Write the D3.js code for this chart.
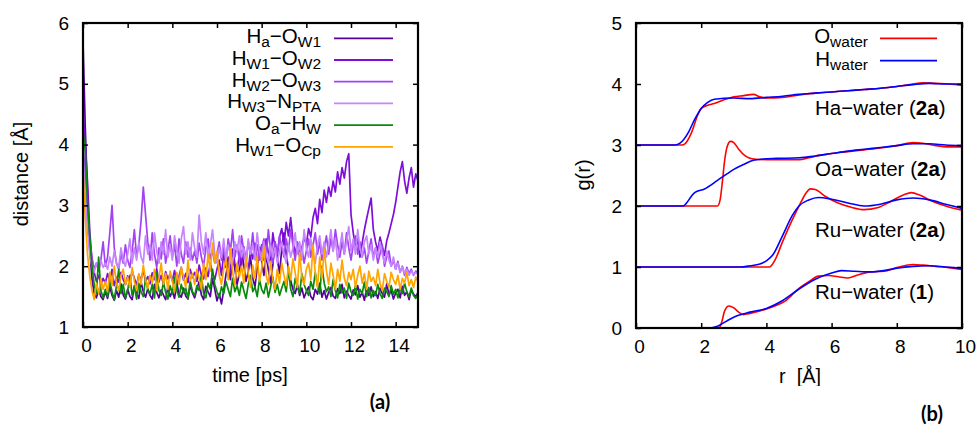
<!DOCTYPE html>
<html><head><meta charset="utf-8">
<script src="https://cdn.jsdelivr.net/npm/d3@7"></script>
<style>
body{margin:0;background:#fff}
svg{display:block}
text{font-family:"Liberation Sans",Arial,Helvetica,sans-serif;fill:#000}
</style>
</head><body>
<svg id="c" width="976" height="428"></svg>
<script>
// ---------- Panel (a) data: distance [Å] vs time [ps], sampled every 0.1 ps ----------
const timePs = d3.range(151).map(i => i / 10);
const haOw1 = [
5.70,4.30,3.20,2.30,1.80,1.55,1.48,1.62,1.50,1.45,
1.58,1.47,1.66,1.52,1.44,1.60,1.49,1.71,1.53,1.46,
1.62,1.50,1.45,1.68,1.55,1.47,1.74,1.58,1.49,1.63,
1.52,1.46,1.70,1.57,1.48,1.61,1.53,1.45,1.66,1.50,
1.59,1.47,1.72,1.54,1.49,1.64,1.51,1.46,1.69,1.56,
1.48,1.62,1.75,1.53,1.45,1.67,1.58,1.50,1.80,1.62,
1.43,1.55,1.38,1.60,1.86,2.05,1.78,2.20,1.95,1.70,
1.88,2.25,2.02,1.75,1.92,2.15,1.80,1.66,1.98,2.30,
2.08,1.85,2.18,1.94,1.72,2.02,2.40,2.12,1.88,2.28,
2.55,2.20,1.95,1.76,1.62,1.55,1.70,1.52,1.64,1.48,
1.58,1.66,1.50,1.45,1.62,1.54,1.72,1.49,1.60,1.46,
1.57,1.65,1.51,1.47,1.63,1.55,1.70,1.48,1.59,1.52,
1.46,1.61,1.53,1.68,1.49,1.57,1.44,1.63,1.52,1.66,
1.50,1.58,1.47,1.64,1.55,1.49,1.71,1.53,1.60,1.46,
1.56,1.62,1.48,1.67,1.52,1.58,1.45,1.61,1.54,1.50,
1.57];
const hw1Ow2 = [
4.60,4.00,3.40,2.60,2.10,1.90,1.75,1.85,1.70,1.80,
1.72,1.88,1.76,1.95,1.68,1.82,1.74,1.90,1.78,1.70,
1.84,1.73,1.92,1.80,1.69,1.86,1.77,1.94,1.75,1.83,
1.71,1.89,1.78,1.96,1.74,1.85,1.70,1.91,1.79,1.87,
1.76,1.93,1.72,1.84,1.98,1.77,1.88,1.73,1.95,1.81,
1.90,1.75,2.02,1.86,1.79,1.97,1.83,2.05,1.88,1.78,
1.95,2.10,1.85,2.22,1.98,2.15,1.90,2.28,2.05,1.92,
2.18,2.00,2.32,2.08,1.94,2.25,2.12,2.38,2.02,2.20,
2.35,2.10,2.45,2.22,2.05,2.55,2.30,2.15,2.48,2.62,
2.35,2.72,2.50,2.80,2.42,2.20,2.38,2.15,2.30,2.48,
2.35,2.62,2.48,2.80,2.95,2.70,3.10,2.88,3.25,3.05,
3.30,3.15,3.40,3.22,3.55,3.35,3.62,3.45,3.72,3.85,
2.85,2.55,2.30,2.45,2.15,2.38,2.60,2.78,2.95,3.12,
2.60,2.40,2.25,2.48,2.32,2.18,2.42,2.55,2.70,2.85,
3.05,3.30,3.55,3.72,3.40,3.20,3.45,3.62,3.30,3.52,
3.40];
const hw2Ow3 = [
4.00,3.50,2.90,2.40,2.15,1.95,2.05,1.92,2.10,2.40,
2.00,2.15,2.55,3.00,2.30,2.05,1.95,2.20,2.05,2.35,
2.10,1.98,2.25,2.60,2.15,2.35,2.75,3.30,2.85,2.40,
2.10,2.55,2.20,1.98,2.30,2.12,2.45,2.05,2.25,2.50,
2.15,2.35,2.00,2.45,2.20,2.05,2.40,2.15,2.30,2.10,
2.25,2.05,2.38,2.15,2.00,2.30,2.45,2.12,2.25,2.05,
2.20,2.40,2.10,2.30,2.05,2.45,2.25,2.60,2.15,2.35,
2.10,2.50,2.25,2.05,2.40,2.20,2.55,2.15,2.35,2.10,
2.30,2.45,2.15,2.60,2.25,2.05,2.40,2.20,2.50,2.30,
2.15,2.45,2.25,2.60,2.35,2.10,2.40,2.20,2.30,2.05,
2.25,2.45,2.15,2.35,2.55,2.20,2.40,2.10,2.30,2.50,
2.20,2.45,2.25,2.60,2.35,2.15,2.40,2.20,2.55,2.30,
2.10,2.35,2.50,2.20,2.40,2.15,2.30,2.05,2.25,2.45,
2.15,2.30,2.05,2.20,2.35,2.00,2.15,2.25,2.00,2.10,
1.95,2.08,1.90,2.00,1.85,1.98,1.88,1.95,1.85,1.92,
1.88];
const hw3Npta = [
3.80,3.20,2.60,2.20,2.00,1.90,2.05,1.95,2.10,1.98,
2.05,1.95,2.15,2.00,2.25,2.05,1.98,2.30,2.10,2.00,
2.20,2.45,2.05,2.30,2.10,2.40,2.15,2.05,2.50,2.20,
2.35,2.10,2.55,2.25,2.05,2.40,2.20,2.60,2.15,2.35,
2.10,2.50,2.25,2.05,2.45,2.65,2.20,2.40,2.10,2.55,
2.30,2.15,2.84,2.40,2.20,2.55,2.10,2.35,2.60,2.20,
2.05,2.30,2.15,2.45,2.10,2.35,2.20,2.05,2.40,2.25,
2.50,2.15,2.30,2.05,2.45,2.20,2.35,2.10,2.55,2.25,
2.10,2.40,2.20,2.05,2.35,2.15,2.30,2.05,2.25,2.40,
2.20,2.05,2.35,2.15,2.30,2.55,2.20,2.40,2.10,2.60,
2.30,2.15,2.45,2.20,2.05,2.35,2.50,2.20,2.40,2.15,
2.35,2.60,2.25,2.45,2.10,2.30,2.55,2.20,2.40,2.65,
2.25,2.45,2.20,2.60,2.30,2.15,2.40,2.50,2.20,2.35,
2.10,2.30,2.15,2.40,2.20,2.05,2.25,2.10,2.00,2.15,
1.95,2.05,1.90,2.00,1.88,1.95,1.85,1.92,1.86,1.90,
1.87];
const oaHw = [
4.20,3.90,3.05,2.50,2.00,1.70,1.55,2.15,1.60,1.48,
1.62,1.50,1.75,1.58,1.45,1.68,1.95,1.55,1.70,1.48,
1.60,1.85,1.52,1.66,1.46,1.72,1.58,1.50,1.80,1.62,
1.54,1.70,1.48,1.90,1.60,1.52,1.74,1.57,1.46,1.68,
1.55,1.82,1.60,1.49,1.70,1.56,1.64,1.47,1.76,1.58,
1.52,1.68,1.60,1.85,1.55,1.48,1.72,1.62,1.95,1.70,
1.58,1.48,1.66,1.55,1.75,1.62,1.50,1.80,1.58,1.68,
1.52,1.74,1.60,1.47,1.70,1.85,1.58,1.66,1.50,1.78,
1.62,1.55,1.72,1.49,1.66,1.82,1.57,1.70,1.52,1.64,
1.75,1.58,1.95,1.62,1.50,1.80,1.66,1.55,1.88,1.70,
1.60,1.52,1.75,1.62,1.90,1.68,1.55,2.00,1.72,1.58,
1.66,1.50,1.78,1.60,1.48,1.70,1.56,1.64,1.47,1.72,
1.58,1.52,1.68,1.46,1.62,1.55,1.74,1.50,1.65,1.48,
1.60,1.52,1.70,1.55,1.47,1.64,1.58,1.50,1.68,1.54,
1.62,1.48,1.66,1.55,1.72,1.58,1.50,1.64,1.52,1.47,
1.55];
const hw1Ocp = [
3.55,2.80,2.20,1.85,1.60,1.45,1.72,1.55,1.80,1.62,
1.75,1.58,1.90,1.68,2.00,1.72,1.60,1.85,1.95,1.70,
1.82,1.65,1.98,1.75,1.60,1.88,1.70,2.02,1.78,1.64,
1.85,1.72,1.95,1.60,1.80,2.05,1.70,1.88,1.62,1.92,
1.75,1.58,1.90,1.70,1.98,1.82,1.65,2.10,1.76,1.88,
1.70,1.95,1.80,1.62,2.05,1.78,2.20,1.92,2.38,2.05,
2.25,1.85,1.70,1.95,2.12,1.78,2.30,1.90,1.68,2.05,
1.82,2.00,1.72,2.15,1.88,1.65,2.02,1.80,2.18,1.75,
1.95,2.32,1.85,1.70,2.08,1.78,1.62,1.95,1.72,2.05,
1.85,1.68,2.00,1.78,2.12,1.90,1.65,2.22,1.82,1.70,
1.95,2.05,1.78,2.35,1.88,1.65,2.15,1.80,2.28,1.92,
1.70,2.05,1.85,1.62,1.95,1.75,2.10,1.80,1.68,1.90,
1.78,1.95,1.65,1.85,2.00,1.72,1.88,1.62,1.92,1.75,
1.82,1.68,1.95,1.72,1.60,1.88,1.75,1.65,1.90,1.78,
1.70,1.85,1.62,1.80,1.72,1.90,1.68,1.78,1.65,1.82,
1.74];
const xTicksA = [0,2,4,6,8,10,12,14];
const yTicksA = [1,2,3,4,5,6];

// ---------- Panel (b) data: g(r) vs r [Å] (curves already offset) ----------
const haWaterO = [[0,3],[1.4,3],[1.5,3.02],[1.7,3.2],[1.9,3.5],[2.0,3.6],[2.2,3.65],[2.4,3.68],[2.7,3.74],[3.0,3.79],[3.3,3.81],[3.6,3.83],[3.8,3.79],[4.0,3.77],[4.5,3.78],[5.0,3.82],[5.5,3.85],[6.0,3.87],[6.5,3.89],[7.0,3.91],[7.5,3.93],[8.0,3.96],[8.5,4.0],[8.8,4.02],[9.2,4.01],[9.6,4.0],[10,3.98]];
const haWaterH = [[0,3],[1.2,3],[1.35,3.03],[1.6,3.2],[1.8,3.42],[2.0,3.6],[2.2,3.7],[2.4,3.75],[3.0,3.77],[3.5,3.76],[4.0,3.78],[4.5,3.8],[5.0,3.83],[5.5,3.85],[6.0,3.87],[6.5,3.89],[7.0,3.91],[7.5,3.93],[8.0,3.96],[8.5,3.99],[9.0,4.01],[9.5,4.0],[10,4.0]];
const oaWaterO = [[0,2],[2.5,2],[2.58,2.1],[2.65,2.4],[2.72,2.75],[2.8,2.98],[2.9,3.06],[3.0,3.04],[3.15,2.93],[3.35,2.82],[3.6,2.77],[4.0,2.76],[4.5,2.76],[5.0,2.76],[5.3,2.79],[5.6,2.83],[6.0,2.86],[6.5,2.89],[7.0,2.92],[7.5,2.95],[8.0,2.99],[8.5,3.04],[8.8,3.03],[9.2,2.99],[9.6,2.97],[10,2.97]];
const oaWaterH = [[0,2],[1.45,2],[1.55,2.05],[1.7,2.16],[1.8,2.22],[2.1,2.28],[2.5,2.42],[2.8,2.53],[3.0,2.6],[3.3,2.68],[3.6,2.75],[3.9,2.77],[4.3,2.78],[5.0,2.79],[5.5,2.82],[6.0,2.86],[6.5,2.9],[7.0,2.93],[7.5,2.96],[8.0,2.99],[8.5,3.02],[9.0,3.02],[9.5,3.0],[10,2.99]];
const ruWater2aO = [[0,1],[4.1,1],[4.25,1.1],[4.5,1.42],[4.8,1.78],[5.05,2.05],[5.2,2.2],[5.35,2.28],[5.5,2.27],[5.8,2.16],[6.2,2.05],[6.6,1.98],[7.0,1.94],[7.4,1.97],[7.8,2.07],[8.2,2.18],[8.45,2.22],[8.7,2.18],[9.0,2.1],[9.5,2.0],[10,1.93]];
const ruWater2aH = [[0,1],[3.2,1],[3.5,1.02],[3.8,1.05],[4.0,1.1],[4.2,1.2],[4.5,1.52],[4.8,1.85],[5.0,2.0],[5.3,2.1],[5.6,2.14],[6.0,2.11],[6.5,2.05],[7.0,2.0],[7.5,2.03],[8.0,2.1],[8.5,2.13],[9.0,2.1],[9.5,2.03],[10,1.96]];
const ruWater1O = [[0,0],[2.55,0],[2.62,0.08],[2.72,0.28],[2.85,0.36],[3.0,0.33],[3.15,0.26],[3.3,0.22],[3.5,0.24],[3.8,0.28],[4.2,0.35],[4.6,0.45],[5.0,0.65],[5.3,0.76],[5.6,0.85],[5.9,0.86],[6.2,0.84],[6.5,0.82],[6.8,0.87],[7.2,0.92],[7.6,0.93],[8.0,0.99],[8.5,1.04],[8.8,1.03],[9.2,1.01],[9.6,0.99],[10,0.96]];
const ruWater1H = [[0,0],[2.25,0],[2.5,0.03],[2.8,0.12],[3.1,0.2],[3.5,0.26],[4.0,0.32],[4.5,0.45],[5.0,0.64],[5.5,0.8],[6.0,0.9],[6.3,0.94],[6.7,0.93],[7.2,0.92],[7.6,0.94],[8.0,0.98],[8.5,1.01],[9.0,1.02],[9.5,1.0],[10,0.98]];
const xTicksB = [0,2,4,6,8,10];
const yTicksB = [0,1,2,3,4,5];

// ---------- drawing ----------
const FONT = '"Liberation Sans", Arial, Helvetica, sans-serif';
const svg = d3.select('#c');
const TICK_FS = 19;

function rich(g, x, y, parts, anchor, size, subSize, subDy) {
  const t = g.append('text').attr('x', x).attr('y', y)
    .attr('text-anchor', anchor).attr('font-size', size).style('font-family', FONT);
  let down = false;
  parts.forEach(p => {
    const ts = t.append('tspan').text(p.t);
    if (p.s && !down) { ts.attr('dy', subDy); down = true; }
    else if (!p.s && down) { ts.attr('dy', -subDy); down = false; }
    if (p.s) ts.attr('font-size', subSize);
    if (p.b) ts.attr('font-weight', 'bold');
  });
  return t;
}

function frameAxes(g, x, y, box, xt, yt, xlabOff) {
  const ax = g.append('g');
  ax.append('g').attr('transform', `translate(0,${box.b})`)
    .call(d3.axisBottom(x).tickValues(xt).tickSize(-5).tickPadding(12).tickFormat(d3.format('d')))
    .call(s => { s.select('.domain').remove(); s.selectAll('text').attr('font-size', TICK_FS).style('font-family', FONT).attr('dx', xlabOff); });
  ax.append('g').attr('transform', `translate(0,${box.t})`)
    .call(d3.axisTop(x).tickValues(xt).tickSize(-5).tickFormat(''))
    .call(s => s.select('.domain').remove());
  ax.append('g').attr('transform', `translate(${box.l},0)`)
    .call(d3.axisLeft(y).tickValues(yt).tickSize(-5).tickPadding(box.ypad).tickFormat(d3.format('d')))
    .call(s => { s.select('.domain').remove(); s.selectAll('text').attr('font-size', TICK_FS).style('font-family', FONT); });
  ax.append('g').attr('transform', `translate(${box.r},0)`)
    .call(d3.axisRight(y).tickValues(yt).tickSize(-5).tickFormat(''))
    .call(s => s.select('.domain').remove());
  ax.selectAll('.tick line').attr('stroke', '#000').attr('stroke-width', 1.5);
  g.append('rect').attr('x', box.l).attr('y', box.t).attr('width', box.r - box.l).attr('height', box.b - box.t)
    .attr('fill', 'none').attr('stroke', '#000').attr('stroke-width', 2.2);
}

// ===== Panel (a) =====
const A = {l: 83, r: 418, t: 23, b: 327, ypad: 14};
const xa = d3.scaleLinear().domain([0, 15]).range([A.l, A.r]);
const ya = d3.scaleLinear().domain([1, 6]).range([A.b, A.t]);
const gA = svg.append('g');
svg.append('clipPath').attr('id', 'clipA').append('rect')
  .attr('x', A.l).attr('y', A.t).attr('width', A.r - A.l).attr('height', A.b - A.t);

const seriesA = [
  {v: haOw1,  c: '#56009e', lab: [{t:'H'},{t:'a',s:1},{t:'−O'},{t:'W1',s:1}]},
  {v: hw1Ow2, c: '#7d0fd9', lab: [{t:'H'},{t:'W1',s:1},{t:'−O'},{t:'W2',s:1}]},
  {v: hw2Ow3, c: '#a342f3', lab: [{t:'H'},{t:'W2',s:1},{t:'−O'},{t:'W3',s:1}]},
  {v: hw3Npta,c: '#c684fd', lab: [{t:'H'},{t:'W3',s:1},{t:'−N'},{t:'PTA',s:1}]},
  {v: oaHw,   c: '#0a8a0a', lab: [{t:'O'},{t:'a',s:1},{t:'−H'},{t:'W',s:1}]},
  {v: hw1Ocp, c: '#ffa500', lab: [{t:'H'},{t:'W1',s:1},{t:'−O'},{t:'Cp',s:1}]}
];
const lineA = d3.line().x((d, i) => xa(timePs[i])).y(d => ya(d));
const plotA = gA.append('g').attr('clip-path', 'url(#clipA)');
seriesA.forEach(s => {
  plotA.append('path').datum(s.v).attr('d', lineA)
    .attr('fill', 'none').attr('stroke', s.c).attr('stroke-width', 1.7).attr('stroke-linejoin', 'round');
});
frameAxes(gA, xa, ya, A, xTicksA, yTicksA, 3);

// legend (a)
seriesA.forEach((s, i) => {
  const yy = 38.3 + i * 21.7;
  rich(gA, 321, yy + 5, s.lab, 'end', 20.5, 15.5, 4);
  gA.append('line').attr('x1', 334).attr('x2', 393).attr('y1', yy).attr('y2', yy)
    .attr('stroke', s.c).attr('stroke-width', 1.8);
});
gA.append('text').attr('transform', 'translate(28,174) rotate(-90)')
  .attr('text-anchor', 'middle').attr('font-size', 20).style('font-family', FONT).text('distance [Å]');
gA.append('text').attr('x', 250).attr('y', 382).attr('text-anchor', 'middle')
  .attr('font-size', 20).style('font-family', FONT).text('time [ps]');
gA.append('text').attr('x', 380).attr('y', 409).attr('text-anchor', 'middle')
  .attr('font-size', 20).attr('font-weight', 'bold').style('font-family', 'Lato, "Open Sans", sans-serif').text('(a)');

// ===== Panel (b) =====
const B = {l: 636, r: 962, t: 23, b: 328, ypad: 14};
const xb = d3.scaleLinear().domain([0, 10]).range([B.l, B.r]);
const yb = d3.scaleLinear().domain([0, 5]).range([B.b, B.t]);
const gB = svg.append('g');
svg.append('clipPath').attr('id', 'clipB').append('rect')
  .attr('x', B.l).attr('y', B.t).attr('width', B.r - B.l).attr('height', B.b - B.t);
const lineB = d3.line().x(d => xb(d[0])).y(d => yb(d[1])).curve(d3.curveMonotoneX);
const plotB = gB.append('g').attr('clip-path', 'url(#clipB)');
const RED = '#ff0000', BLUE = '#0000ff';
[[haWaterO, RED], [haWaterH, BLUE], [oaWaterO, RED], [oaWaterH, BLUE],
 [ruWater2aO, RED], [ruWater2aH, BLUE], [ruWater1O, RED], [ruWater1H, BLUE]].forEach(([d, c]) => {
  plotB.append('path').datum(d).attr('d', lineB)
    .attr('fill', 'none').attr('stroke', c).attr('stroke-width', 1.6).attr('stroke-linejoin', 'round');
});
frameAxes(gB, xb, yb, B, xTicksB, yTicksB, 3);

// legend (b)
[[{t:'O'},{t:'water',s:1}], [{t:'H'},{t:'water',s:1}]].forEach((lab, i) => {
  const yy = 38.3 + i * 22.4;
  rich(gB, 868, yy + 5, lab, 'end', 20.5, 15.5, 4);
  gB.append('line').attr('x1', 880).attr('x2', 937).attr('y1', yy).attr('y2', yy)
    .attr('stroke', i ? BLUE : RED).attr('stroke-width', 1.8);
});
// curve labels
const curveLabels = [
  {y: 115, p: [{t:'Ha−water ('},{t:'2a',b:1},{t:')'}]},
  {y: 176, p: [{t:'Oa−water ('},{t:'2a',b:1},{t:')'}]},
  {y: 237, p: [{t:'Ru−water ('},{t:'2a',b:1},{t:')'}]},
  {y: 299, p: [{t:'Ru−water ('},{t:'1',b:1},{t:')'}]}
];
curveLabels.forEach(l => rich(gB, 815, l.y, l.p, 'start', 20.5, 20.5, 0));

gB.append('text').attr('transform', 'translate(590,175) rotate(-90)')
  .attr('text-anchor', 'middle').attr('font-size', 20).style('font-family', FONT).text('g(r)');
svg.append('clipPath').attr('id', 'clipR').append('rect')
  .attr('x', 700).attr('y', 350).attr('width', 200).attr('height', 36);
gB.append('text').attr('x', 800).attr('y', 383).attr('text-anchor', 'middle')
  .attr('font-size', 20).style('font-family', FONT).attr('clip-path', 'url(#clipR)').attr('xml:space', 'preserve').text('r  [Å]');
gB.append('text').attr('x', 932).attr('y', 421).attr('text-anchor', 'middle')
  .attr('font-size', 20).attr('font-weight', 'bold').style('font-family', 'Lato, "Open Sans", sans-serif').text('(b)');
</script>
</body></html>
